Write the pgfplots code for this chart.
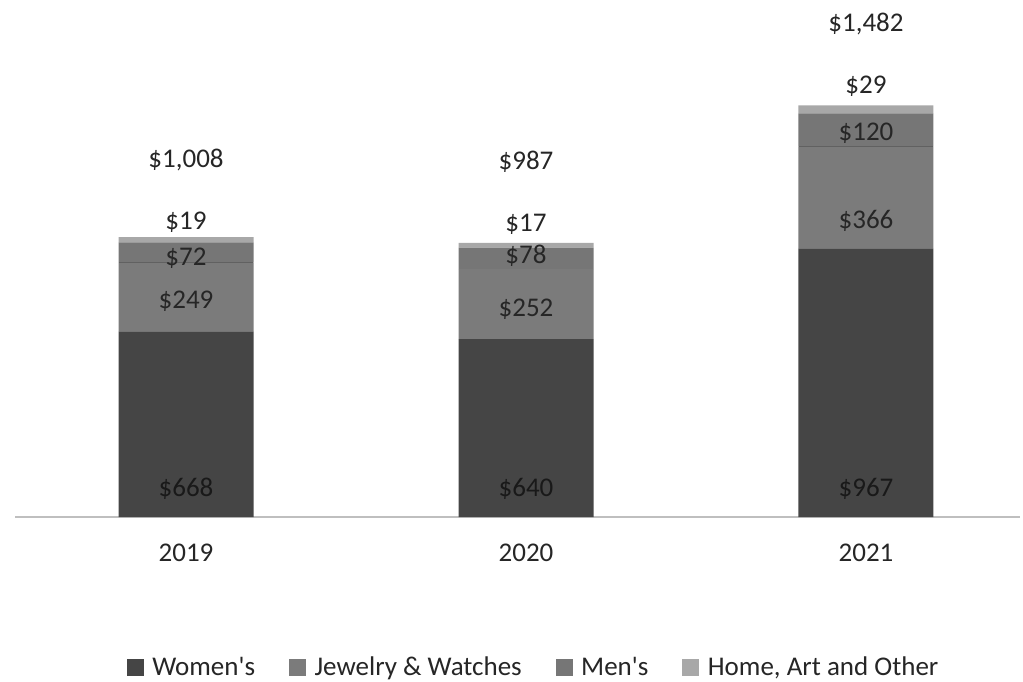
\documentclass[border=0pt]{standalone}
\usepackage{pgfplots}
\pgfplotsset{compat=1.18}
\usepackage{fontspec}
\setmainfont{Carlito}
\definecolor{cWomen}{HTML}{454545}
\definecolor{cJew}{HTML}{7B7B7B}
\definecolor{cMen}{HTML}{767676}
\definecolor{cHome}{HTML}{A8A8A8}
\definecolor{txt}{HTML}{262626}
\tikzset{vl/.style={font=\fontsize{13.5}{15}\selectfont, text=txt, inner sep=0pt}}
\begin{document}
\begin{tikzpicture}
\useasboundingbox (0pt,0pt) rectangle (511.5pt,340.5pt);
\begin{axis}[
  at={(7.5pt,82pt)}, anchor=south west,
  scale only axis, width=502.5pt, height=250pt,
  ybar stacked, bar width=67.5pt,
  xmin=-0.503, xmax=2.453, ymin=0, ymax=1800,
  axis x line*=bottom, hide y axis,
  axis line style={draw=black!25, line width=0.8pt},
  xtick={0,1,2}, xticklabels={2019,2020,2021},
  major tick length=0pt,
  xticklabel style={font=\fontsize{13.5}{15}\selectfont, text=txt, yshift=-10pt},
  legend columns=4,
  legend style={draw=none, at={(0.517,-0.302)}, anchor=center,
    font=\fontsize{13.5}{15}\selectfont, text=txt,
    /tikz/every even column/.append style={column sep=15pt}},
  legend image code/.code={\fill[#1] (0pt,-4pt) rectangle (8.5pt,4.5pt);},
]
\addplot[fill=cWomen, draw=none] coordinates {(0,668) (1,640) (2,967)};
\addplot[fill=cJew, draw=none] coordinates {(0,249) (1,252) (2,366)};
\addplot[fill=cMen, draw=none] coordinates {(0,72) (1,78) (2,120)};
\addplot[fill=cHome, draw=none] coordinates {(0,19) (1,17) (2,29)};
\legend{{\,Women\textquotesingle s}, {\,Jewelry \& Watches}, {\,Men\textquotesingle s}, {\,Home, Art and Other}}
\coordinate (l1a) at (axis cs:-0.198,917);
\coordinate (l1b) at (axis cs:0.198,917);
\coordinate (l2a) at (axis cs:1.802,1333);
\coordinate (l2b) at (axis cs:2.198,1333);
\coordinate (a1) at (axis cs:0,1285);
\coordinate (a2) at (axis cs:0,1062);
\coordinate (a3) at (axis cs:0,932);
\coordinate (a4) at (axis cs:0,778);
\coordinate (a5) at (axis cs:0,101);
\coordinate (b1) at (axis cs:1,1278);
\coordinate (b2) at (axis cs:1,1055);
\coordinate (b3) at (axis cs:1,940);
\coordinate (b4) at (axis cs:1,749);
\coordinate (b5) at (axis cs:1,101);
\coordinate (c1) at (axis cs:2,1775);
\coordinate (c2) at (axis cs:2,1551);
\coordinate (c3) at (axis cs:2,1382);
\coordinate (c4) at (axis cs:2,1066);
\coordinate (c5) at (axis cs:2,101);
\end{axis}
\draw[black!62, line width=0.4pt] (l1a) -- (l1b);
\draw[black!62, line width=0.4pt] (l2a) -- (l2b);
\node[vl] at (a1) {\$1,008};
\node[vl] at (a2) {\$19};
\node[vl] at (a3) {\$72};
\node[vl] at (a4) {\$249};
\node[vl,text=black!90] at (a5) {\$668};
\node[vl] at (b1) {\$987};
\node[vl] at (b2) {\$17};
\node[vl] at (b3) {\$78};
\node[vl] at (b4) {\$252};
\node[vl,text=black!90] at (b5) {\$640};
\node[vl] at (c1) {\$1,482};
\node[vl] at (c2) {\$29};
\node[vl] at (c3) {\$120};
\node[vl] at (c4) {\$366};
\node[vl,text=black!90] at (c5) {\$967};
\end{tikzpicture}
\end{document}
